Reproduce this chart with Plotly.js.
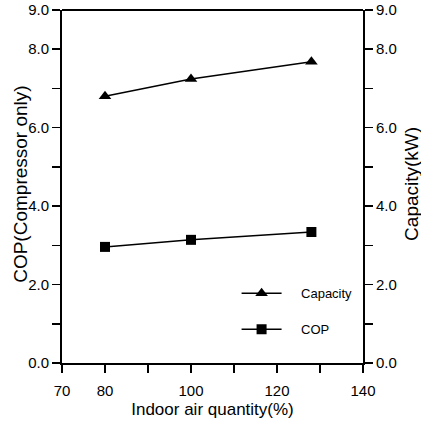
<!DOCTYPE html>
<html><head><meta charset="utf-8">
<script src="https://cdn.plot.ly/plotly-3.0.1.min.js"></script>
<style>html,body{margin:0;padding:0;background:#fff}#c{width:421px;height:426px}</style>
</head><body><div id="c"></div>
<script>
var airQuantity = [80, 100, 128];
var capacity = [6.8, 7.24, 7.68];
var cop = [2.96, 3.14, 3.34];
var xTickVals = [70, 80, 90, 100, 110, 120, 130, 140];
var xTickText = ['70', '80', '', '100', '', '120', '', '140'];
var yTickVals = [0, 1, 2, 3, 4, 5, 6, 7, 8, 9];
var yTickText = ['0.0', '', '2.0', '', '4.0', '', '6.0', '', '8.0', '9.0'];
var seriesNames = ['Capacity', 'COP'];

var FONT = '"Liberation Sans", Arial, sans-serif';
var PAD = '\u00a0\u00a0\u00a0\u00a0';

var traces = [
  {x: airQuantity, y: capacity, name: PAD + seriesNames[0], yaxis: 'y2', mode: 'lines+markers',
   legendgroup: 'a',
   line: {color: '#000', width: 1.5}, marker: {symbol: 'triangle-up', size: 11, color: '#000'}},
  {x: airQuantity, y: cop, name: PAD + seriesNames[1], mode: 'lines+markers',
   legendgroup: 'b',
   line: {color: '#000', width: 1.5}, marker: {symbol: 'square', size: 10, color: '#000'}}
];

var axCommon = {
  showgrid: false, zeroline: false, showline: true, linecolor: '#000', linewidth: 2,
  ticks: 'outside', ticklen: 8, tickwidth: 1.5, tickcolor: '#000',
  tickfont: {family: FONT, size: 15, color: '#000'}
};

var layout = {
  width: 421, height: 426,
  margin: {l: 62, r: 58, t: 10, b: 63},
  paper_bgcolor: '#fff', plot_bgcolor: '#fff',
  font: {family: FONT, color: '#000'},
  showlegend: true,
  legend: {x: 0.58, y: 0.24, xanchor: 'left', yanchor: 'top', bgcolor: 'rgba(0,0,0,0)',
           font: {family: FONT, size: 13, color: '#000'}, tracegroupgap: 16, itemwidth: 40},
  xaxis: Object.assign({}, axCommon, {
    range: [70, 140], tickmode: 'array', tickvals: xTickVals, ticktext: xTickText,
    mirror: false, ticklabelstandoff: 5,
    title: {text: 'Indoor air quantity(%)', font: {family: FONT, size: 17, color: '#000'}, standoff: 5}
  }),
  yaxis: Object.assign({}, axCommon, {
    range: [0, 9], tickmode: 'array', tickvals: yTickVals, ticktext: yTickText
  }),
  yaxis2: Object.assign({}, axCommon, {
    range: [0, 9], tickmode: 'array', tickvals: yTickVals, ticktext: yTickText,
    overlaying: 'y', side: 'right'
  }),
  shapes: [
    {type: 'line', xref: 'paper', yref: 'paper', x0: 0, x1: 1, y0: 1, y1: 1,
     line: {color: '#000', width: 2}}
  ],
  annotations: [
    {text: 'COP(Compressor only)', xref: 'paper', yref: 'paper', x: -0.136, y: 0.505,
     xanchor: 'center', yanchor: 'middle',
     textangle: -90, showarrow: false, font: {family: FONT, size: 19, color: '#000'}},
    {text: 'Capacity(kW)', xref: 'paper', yref: 'paper', x: 1.159, y: 0.507,
     xanchor: 'center', yanchor: 'middle',
     textangle: -90, showarrow: false, font: {family: FONT, size: 19, color: '#000'}}
  ]
};

Plotly.newPlot('c', traces, layout, {displayModeBar: false, staticPlot: true});
</script>
</body></html>
